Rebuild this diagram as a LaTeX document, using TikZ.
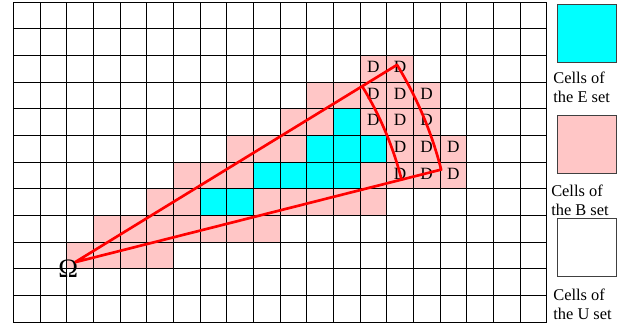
\documentclass[tikz,border=0pt]{standalone}
\usepackage{fontspec}
\setmainfont{Liberation Serif}
\usetikzlibrary{calc}
\definecolor{eblue}{RGB}{0,255,255}
\definecolor{bpink}{RGB}{255,198,198}
\tikzset{
    eset/.style={fill=eblue},
    bset/.style={fill=bpink},
    gridline/.style={line width=0.6pt, black},
    ray/.style={red, line width=1.7pt, line join=round},
    dmark/.style={font=\fontsize{11}{13}\selectfont, inner sep=0pt},
    keybox/.style={draw=black!75, line width=0.6pt, minimum width=1.32cm, minimum height=1.31cm, inner sep=0pt},
    keytext/.style={anchor=west, align=left, inner sep=0pt, font=\fontsize{10.5}{12.2}\selectfont},
}

\begin{document}
\begin{tikzpicture}[x=0.6cm, y=0.6cm]
    \useasboundingbox (-0.5,-0.326) rectangle (23.05,12.085);

    % B and E cells, row by row
    \fill[bset] (13,9) rectangle (15,10);
    \fill[bset] (11,8) rectangle (16,9);
    \fill[bset] (10,7) rectangle (12,8);
    \fill[eset] (12,7) rectangle (13,8);
    \fill[bset] (13,7) rectangle (16,8);
    \fill[bset] (8,6) rectangle (11,7);
    \fill[eset] (11,6) rectangle (14,7);
    \fill[bset] (14,6) rectangle (17,7);
    \fill[bset] (6,5) rectangle (9,6);
    \fill[eset] (9,5) rectangle (13,6);
    \fill[bset] (13,5) rectangle (17,6);
    \fill[bset] (5,4) rectangle (7,5);
    \fill[eset] (7,4) rectangle (9,5);
    \fill[bset] (9,4) rectangle (14,5);
    \fill[bset] (3,3) rectangle (10,4);
    \fill[bset] (2,2) rectangle (6,3);

    \draw[gridline, step=0.6cm] (0,0) grid (20,12);

    \foreach \c/\r in {13/9, 14/9, 13/8, 14/8, 15/8, 13/7, 14/7, 15/7,
                       14/6, 15/6, 16/6, 14/5, 15/5, 16/5}
        \node[dmark] (d\c-\r) at (\c+0.5,\r+0.58) {D};

    \node[font=\fontsize{17}{19}\selectfont, inner sep=0pt] (omega) at (2.06,2.0) {Ω};

    % sector seen from Omega
    \coordinate (apex)   at (2.31,2.25);
    \coordinate (outtop) at ($(apex)+(31.5:8.5cm)$);
    \coordinate (intop)  at ($(apex)+(31.5:7.58cm)$);
    \draw[ray] (apex) -- (outtop) arc[start angle=31.5, end angle=14.2, radius=8.5cm]
        coordinate (outbot) -- (apex);
    \draw[ray] (intop) arc[start angle=31.5, end angle=14.2, radius=7.58cm] coordinate (inbot);

    % key
    \node[keybox, fill=eblue] (ekey) at (21.5,10.83) {};
    \node[keytext] (etext) at (20.24,8.80) {Cells of\\the E set};
    \node[keybox, fill=bpink] (bkey) at (21.5,6.68) {};
    \node[keytext] (btext) at (20.16,4.57) {Cells of\\the B set};
    \node[keybox, fill=white] (ukey) at (21.5,2.8) {};
    \node[keytext] (utext) at (20.24,0.667) {Cells of\\the U set};
\end{tikzpicture}
\end{document}
